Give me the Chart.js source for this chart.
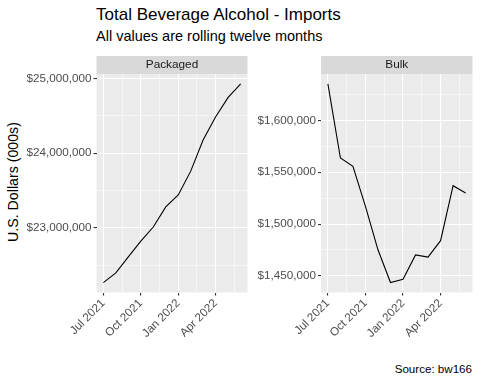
<!DOCTYPE html>
<html>
<head>
<meta charset="utf-8">
<script src="https://cdn.jsdelivr.net/npm/chart.js@4"></script>
<style>
  body { margin:0; background:#fff; font-family:"Liberation Sans", Arial, Helvetica, sans-serif; }
  #wrap { position:relative; width:480px; height:384px; overflow:hidden; }
  canvas { position:absolute; top:0; }
  .txt { position:absolute; white-space:nowrap; color:#000; }
</style>
</head>
<body>
<div id="wrap">
  <div class="txt" style="left:96px;top:5px;font-size:17px">Total Beverage Alcohol - Imports</div>
  <div class="txt" style="left:96px;top:28px;font-size:14.5px">All values are rolling twelve months</div>
  <div class="txt" style="left:13px;top:182px;font-size:14.2px;transform:translate(-50%,-50%) rotate(-90deg)">U.S. Dollars (000s)</div>
  <div class="txt" style="right:8px;top:362px;font-size:11.6px">Source: bw166</div>
  <canvas id="cPack" width="250" height="384" style="left:0"></canvas>
  <canvas id="cBulk" width="230" height="384" style="left:250px"></canvas>
</div>
<script>
// months Jul 2021 .. Jun 2022 (rolling 12 months)
const months = ['Jul 2021','Aug 2021','Sep 2021','Oct 2021','Nov 2021','Dec 2021',
                'Jan 2022','Feb 2022','Mar 2022','Apr 2022','May 2022','Jun 2022'];
const xMajor = [0, 3, 6, 9];          // Jul 2021, Oct 2021, Jan 2022, Apr 2022
const xMinor = [1.5, 4.5, 7.5, 10.5];

const packaged = [22265000, 22395000, 22610000, 22820000, 23010000, 23280000,
                  23440000, 23760000, 24180000, 24490000, 24750000, 24930000];
const bulk = [1635100, 1563700, 1555600, 1517000, 1475200, 1443600,
              1446800, 1470200, 1468100, 1484000, 1537000, 1530000];

const packMajor = [23000000, 24000000, 25000000];
const packMinor = [22500000, 23500000, 24500000];
const bulkMajor = [1450000, 1500000, 1550000, 1600000];
const bulkMinor = [1475000, 1525000, 1575000, 1625000];

const FONT = '"Liberation Sans", Arial, Helvetica, sans-serif';
const fmt = v => '$' + Math.round(v).toLocaleString('en-US');

// ggplot-like panel background + facet strip
const panelPlugin = {
    id: 'panel',
    beforeDraw(chart, args, opts) {
        const { ctx, chartArea: a } = chart;
        ctx.save();
        ctx.fillStyle = '#EBEBEB';
        ctx.fillRect(a.left, a.top, a.right - a.left, a.bottom - a.top);
        ctx.fillStyle = '#D9D9D9';
        ctx.fillRect(a.left, a.top - 18, a.right - a.left, 18);
        ctx.fillStyle = '#1A1A1A';
        ctx.font = '11.8px ' + FONT;
        ctx.textAlign = 'center';
        ctx.textBaseline = 'middle';
        ctx.fillText(opts.label, (a.left + a.right) / 2, a.top - 9);
        ctx.restore();
    }
};

function makePanel(id, label, values, yMajor, yMinor, pad, yWidth) {
    const lo = Math.min(...values), hi = Math.max(...values);
    const ex = (hi - lo) * 0.05;
    const isMaj = (list, v) => list.includes(v);
    return new Chart(document.getElementById(id), {
        type: 'line',
        data: {
            datasets: [{
                data: values.map((v, i) => ({ x: i, y: v })),
                borderColor: '#000', borderWidth: 1.1, pointRadius: 0, tension: 0, fill: false
            }]
        },
        options: {
            responsive: false, animation: false,
            layout: { padding: pad },
            plugins: { legend: { display: false }, tooltip: { enabled: false }, panel: { label } },
            scales: {
                x: {
                    type: 'linear', min: -0.55, max: 11.55,
                    afterBuildTicks: s => { s.ticks = [...xMajor, ...xMinor].sort((a, b) => a - b).map(v => ({ value: v })); },
                    afterFit: s => { s.height = 60; },
                    border: { display: false },
                    grid: {
                        color: '#fff',
                        lineWidth: c => isMaj(xMajor, c.tick.value) ? 1.1 : 0.55,
                        tickColor: c => isMaj(xMajor, c.tick.value) ? '#333' : 'rgba(0,0,0,0)',
                        tickLength: 3, tickWidth: 1.1
                    },
                    ticks: {
                        autoSkip: false, minRotation: 45, maxRotation: 45, padding: 1,
                        color: '#4D4D4D', font: { size: 11.7, family: FONT },
                        callback: v => isMaj(xMajor, v) ? months[v] : ''
                    }
                },
                y: {
                    min: lo - ex, max: hi + ex,
                    afterBuildTicks: s => { s.ticks = [...yMajor, ...yMinor].sort((a, b) => a - b).map(v => ({ value: v })); },
                    afterFit: s => { s.width = yWidth; },
                    border: { display: false },
                    grid: {
                        color: '#fff',
                        lineWidth: c => isMaj(yMajor, c.tick.value) ? 1.1 : 0.55,
                        tickColor: c => isMaj(yMajor, c.tick.value) ? '#333' : 'rgba(0,0,0,0)',
                        tickLength: 3, tickWidth: 1.1
                    },
                    ticks: {
                        autoSkip: false, padding: 2,
                        color: '#4D4D4D', font: { size: 11.7, family: FONT },
                        callback: v => isMaj(yMajor, v) ? fmt(v) : ''
                    }
                }
            }
        },
        plugins: [panelPlugin]
    });
}

makePanel('cPack', 'Packaged', packaged, packMajor, packMinor,
          { left: 0, right: 2.5, top: 74, bottom: 31.5 }, 96.5);
makePanel('cBulk', 'Bulk', bulk, bulkMajor, bulkMinor,
          { left: 0, right: 7.5, top: 74, bottom: 31.5 }, 71);
</script>
</body>
</html>
